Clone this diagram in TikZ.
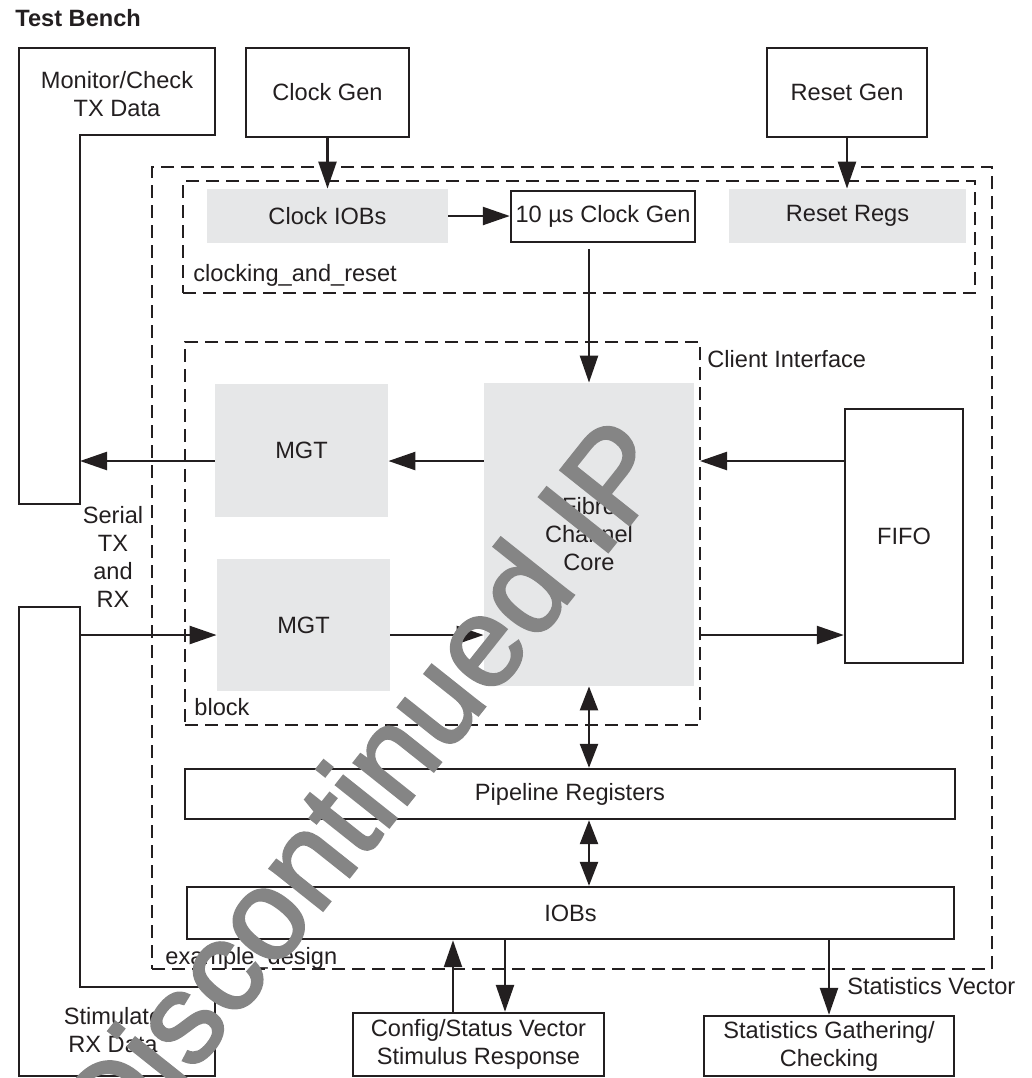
\documentclass[tikz,border=0pt]{standalone}
\usepackage{fontspec}
\setmainfont{Liberation Sans}
\newfontfamily\markfont[FakeBold=2]{Liberation Sans}
\usepackage{tikz}
\usepackage{xcolor}
\usetikzlibrary{arrows.meta}
\definecolor{inkblack}{RGB}{35,31,32}
\definecolor{blockgray}{RGB}{230,231,232}
\definecolor{markgray}{RGB}{133,133,133}
\tikzstyle{tbbox} = [rectangle, draw=inkblack, line width=1.2pt, fill=white, text centered, align=center, inner sep=0pt]
\tikzstyle{corebox} = [rectangle, fill=blockgray, text centered, align=center, inner sep=0pt]
\tikzstyle{region} = [rectangle, draw=inkblack, line width=1.1pt, dash pattern=on 6.5pt off 3.5pt, inner sep=0pt]
\tikzstyle{tbline} = [line width=1.2pt, line join=miter]
\tikzstyle{tag} = [anchor=base west, inner sep=0pt]
\tikzstyle{arrow} = [line width=1.2pt, -{Triangle[length=13.5pt,width=9pt]}]
\tikzstyle{dblarrow} = [line width=1.2pt, {Triangle[length=12pt,width=9pt]}-{Triangle[length=12pt,width=9pt]}]
\tikzstyle{watermark} = [anchor=base west, rotate=51.5, inner sep=0pt, text=markgray, font=\markfont\fontsize{64}{64}\selectfont]

\begin{document}
\begin{tikzpicture}[x=0.5pt, y=-0.5pt, color=inkblack, font=\fontsize{11.8}{14}\selectfont]
    \useasboundingbox (0,0) rectangle (1032,1078);

    \node (title) [tag, font=\fontsize{11.8}{14}\selectfont\bfseries] at (15,26) {Test Bench};

    \node (exdesign) [region, minimum width=420pt, minimum height=401pt] at (572,568) {};
    \node (clkrst) [region, minimum width=396pt, minimum height=56pt] at (579,237) {};
    \node (blockif) [region, minimum width=257.5pt, minimum height=191.5pt] at (442.5,533.5) {};
    \node (exlabel) [tag] at (165,964) {example\_design};
    \node (crlabel) [tag] at (193,281) {clocking\_and\_reset};
    \node (blklabel) [tag] at (194,715) {block};
    \node (cilabel) [tag] at (707,367) {Client Interface};

    \draw [tbline] (19,48) -- (215,48) -- (215,135) -- (80,135) -- (80,504) -- (19,504) -- cycle;
    \node (monitor) [align=center] at (117,94) {Monitor/Check\\TX Data};
    \draw [tbline] (19,1076) -- (19,607) -- (80,607) -- (80,987) -- (215,987) -- (215,1076) -- cycle;
    \node (stimulate) [align=center] at (113,1030) {Stimulate\\RX Data};
    \node (serial) [align=center] at (113,557) {Serial\\TX\\and\\RX};
    \coordinate (montx) at (80,461);
    \coordinate (stimrx) at (80,635);

    \node (clockgen) [tbbox, minimum width=81.5pt, minimum height=44.5pt] at (327.5,92.5) {Clock Gen};
    \node (resetgen) [tbbox, minimum width=80pt, minimum height=44.5pt] at (847,92.5) {Reset Gen};
    \node (clkiobs) [corebox, minimum width=120.5pt, minimum height=27pt] at (327.5,216) {Clock IOBs};
    \node (usclk) [tbbox, minimum width=92pt, minimum height=25.5pt] at (603,216.5) {10 µs Clock Gen};
    \node (resetregs) [corebox, minimum width=118.5pt, minimum height=27pt] at (847.5,216) {Reset Regs};

    \node (fccore) [corebox, minimum width=105pt, minimum height=151.5pt] at (589,534.5) {Fibre\\Channel\\Core};
    \node (mgttx) [corebox, minimum width=86.5pt, minimum height=66.5pt] at (301.5,450.5) {MGT};
    \node (mgtrx) [corebox, minimum width=86.5pt, minimum height=66pt] at (303.5,625) {MGT};
    \node (fifo) [tbbox, minimum width=59pt, minimum height=127pt] at (904,536) {FIFO};
    \coordinate (cifin) at (700,461);
    \coordinate (cifout) at (700,635);

    \node (pipereg) [tbbox, minimum width=385pt, minimum height=25pt] at (570,794) {Pipeline Registers};
    \node (iobs) [tbbox, minimum width=383.5pt, minimum height=26pt] at (570.5,913) {IOBs};
    \node (config) [tbbox, minimum width=125.5pt, minimum height=31.5pt] at (478.5,1044.5) {Config/Status Vector\\Stimulus Response};
    \node (stats) [tbbox, minimum width=125pt, minimum height=30pt] at (829,1046) {Statistics Gathering/\\Checking};
    \node (svlabel) [tag] at (847,994) {Statistics Vector};
    \coordinate (cfgup) at (453,0);
    \coordinate (cfgdown) at (505,0);

    \draw [arrow] (clockgen.south) -- (clockgen.south |- clkiobs.north);
    \draw [arrow] (resetgen.south) -- (resetgen.south |- resetregs.north);
    \draw [arrow] (clkiobs.east) -- (clkiobs.east -| usclk.west);
    \draw [arrow] ([yshift=-3pt]fccore.north |- usclk.south) -- (fccore.north);
    \draw [arrow] (fccore.west |- montx) -- (mgttx.east |- montx);
    \draw [arrow] (mgttx.west |- montx) -- (montx);
    \draw [arrow] (fifo.west |- cifin) -- (cifin);
    \draw [arrow] (stimrx) -- (mgtrx.west |- stimrx);
    \draw [arrow] (mgtrx.east |- stimrx) -- (fccore.west |- stimrx);
    \draw [arrow] (cifout) -- (fifo.west |- cifout);
    \draw [dblarrow] (fccore.south) -- (fccore.south |- pipereg.north);
    \draw [dblarrow] (fccore.south |- pipereg.south) -- (fccore.south |- iobs.north);
    \draw [arrow] (config.north -| cfgup) -- (iobs.south -| cfgup);
    \draw [arrow] (iobs.south -| cfgdown) -- (config.north -| cfgdown);
    \draw [arrow] (iobs.south -| stats.north) -- (stats.north);

    \node (wmark) [watermark] at (118,1168) {Discontinued IP};
\end{tikzpicture}
\end{document}
